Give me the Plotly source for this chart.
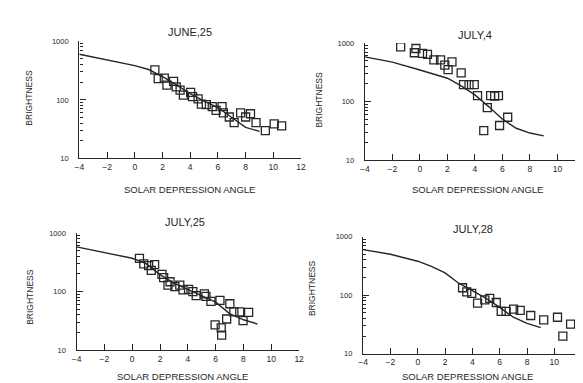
import plotly.graph_objects as go

# ---- data ----
titles = ["JUNE,25", "JULY,4", "JULY,25", "JULY,28"]
x_ticks = [-4, -2, 0, 2, 4, 6, 8, 10, 12]
y_ticks = [10, 100, 1000]

# June 25
jun25_x = [1.45, 1.69, 2.13, 2.32, 2.80, 2.99, 3.27, 3.51, 4.03, 4.17, 4.57, 4.81, 5.16, 5.59,
           5.87, 6.30, 6.39, 6.82, 7.17, 7.64, 8.00, 8.35, 8.75, 9.42, 10.06, 10.6]
jun25_y = [325, 230, 235, 178, 207, 167, 147, 121, 134, 114, 104, 85, 83, 77,
           66, 77, 60, 51, 41, 60, 51, 58, 41, 30, 39, 36]
jun25_lx = [-4, -2, 0, 1, 2, 3, 4, 5, 6, 7, 8, 9]
jun25_ly = [600, 480, 385, 330, 250, 180, 128, 95, 74, 50, 34, 29]

# July 4
jul4_x = [-1.40, -0.29, -0.40, 0.19, 0.55, 1.02, 1.50, 1.81, 2.33, 2.05, 3.00, 3.17, 3.57,
          3.95, 4.19, 4.90, 5.14, 5.43, 5.71, 4.64, 5.79, 6.38]
jul4_y = [858, 805, 681, 664, 639, 514, 514, 419, 476, 350, 308, 194, 194,
          194, 126, 79, 126, 124, 126, 32, 39, 54]
jul4_lx = [-4, -2, 0, 1, 2, 3, 4, 5, 6, 7, 8, 9]
jul4_ly = [580, 470, 345, 295, 250, 185, 130, 82, 50, 35, 29, 26]

# July 25
jul25_x = [0.52, 0.83, 1.18, 1.61, 1.37, 2.14, 2.26, 2.57, 2.72, 3.07, 3.42, 3.65, 4.05, 4.36,
           4.60, 5.19, 5.30, 5.66, 6.31, 7.02, 7.31, 7.73, 8.37, 6.79, 7.97, 5.96, 6.40, 6.43]
jul25_y = [369, 296, 278, 289, 230, 197, 173, 129, 147, 121, 129, 107, 109, 100,
           85, 91, 83, 68, 71, 62, 45, 45, 44, 34, 32, 27, 24, 18]
jul25_lx = [-4, -2, 0, 1, 2, 3, 4, 5, 6, 7, 8, 9]
jul25_ly = [580, 460, 370, 300, 195, 140, 110, 86, 66, 42, 33, 28]

# July 28
jul28_x = [3.28, 3.59, 3.95, 4.38, 4.91, 5.27, 5.75, 6.11, 6.47, 7.02, 7.50, 8.27, 9.22,
           10.23, 10.62, 11.19]
jul28_y = [134, 114, 107, 73, 83, 88, 75, 53, 53, 58, 55, 45, 38, 42, 20, 32]
jul28_lx = [-4, -2, 0, 1, 2, 3, 4, 5, 6, 7, 8, 9]
jul28_ly = [600, 500, 380, 310, 240, 160, 120, 88, 62, 42, 33, 28]

panels = [
    (jun25_x, jun25_y, jun25_lx, jun25_ly),
    (jul4_x, jul4_y, jul4_lx, jul4_ly),
    (jul25_x, jul25_y, jul25_lx, jul25_ly),
    (jul28_x, jul28_y, jul28_lx, jul28_ly),
]

W, H = 583, 383
INK = "#262626"
FONT = "Liberation Sans"

# pixel geometry of each panel: (x at -4, px per unit, y px of 1000, y px of 10)
geom = [
    (67.5, 14.1, 30.0, 150.0),
    (358.0, 14.0, 31.7, 151.7),
    (64.7, 14.15, 226.3, 346.3),
    (356.2, 13.9, 230.0, 350.0),
]
title_pos = [(180, 20), (470, 24), (175, 215), (468, 222)]
ytitle_pos = [(16, 88), (311, 90), (17, 292), (305, 283)]
xtitle_pos = [(180, 182), (473, 182), (172, 373), (462, 373)]

fig = go.Figure()
layout = dict(width=W, height=H, margin=dict(l=0, r=0, t=0, b=0),
              paper_bgcolor="white", plot_bgcolor="white", showlegend=False,
              font=dict(family=FONT, color=INK))
annotations = []

for i, (px, py, lx, ly) in enumerate(panels):
    n = "" if i == 0 else str(i + 1)
    xa, ya = "x" + n, "y" + n
    fig.add_trace(go.Scatter(x=lx, y=ly, mode="lines", xaxis=xa, yaxis=ya,
                             line=dict(color=INK, width=1.4), hoverinfo="skip"))
    fig.add_trace(go.Scatter(x=px, y=py, mode="markers", xaxis=xa, yaxis=ya,
                             marker=dict(symbol="square-open", size=8, color=INK,
                                         line=dict(width=1.3, color=INK))))
    x0, ppu, y1000, y10 = geom[i]
    dom_x = [x0 / W, min(1.0, (x0 + 16 * ppu) / W)]
    dom_y = [1 - y10 / H, 1 - y1000 / H]
    layout["xaxis" + n] = dict(domain=dom_x, range=[-4, 12], anchor=ya,
                               tickvals=x_ticks, ticks="inside", ticklen=6, tickwidth=1.3,
                               tickcolor=INK, showline=True, linecolor=INK, linewidth=1.4,
                               showgrid=False, zeroline=False,
                               tickfont=dict(size=8.5, color=INK, family=FONT))
    layout["yaxis" + n] = dict(domain=dom_y, type="log", range=[1, 3], anchor=xa,
                               tickvals=y_ticks, ticktext=[str(v) for v in y_ticks],
                               ticks="inside", ticklen=6, tickwidth=1.3, tickcolor=INK,
                               minor=dict(ticks="inside", ticklen=3, tickcolor=INK,
                                          tickvals=[v * m for v in [10, 100] for m in range(2, 10)]),
                               showline=True, linecolor=INK, linewidth=1.4,
                               showgrid=False, zeroline=False, ticklabelstandoff=8,
                               tickfont=dict(size=7.5, color=INK, family=FONT))
    tx, ty = title_pos[i]
    annotations.append(dict(text=titles[i], x=tx / W, y=1 - ty / H, xref="paper", yref="paper",
                            xanchor="center", yanchor="middle",
                            showarrow=False, font=dict(size=11, color=INK, family=FONT)))
    yx, yy = ytitle_pos[i]
    annotations.append(dict(text="BRIGHTNESS", x=yx / W, y=1 - yy / H, xref="paper", yref="paper",
                            xanchor="center", yanchor="middle",
                            showarrow=False, textangle=-90, font=dict(size=8.5, color=INK, family=FONT)))
    xx, xy = xtitle_pos[i]
    annotations.append(dict(text="SOLAR DEPRESSION ANGLE", x=xx / W, y=1 - xy / H, xref="paper",
                            yref="paper", showarrow=False, xanchor="center", yanchor="middle",
                            font=dict(size=9.5, color=INK, family=FONT)))

layout["annotations"] = annotations
fig.update_layout(**layout)
fig.write_html("out.html")
